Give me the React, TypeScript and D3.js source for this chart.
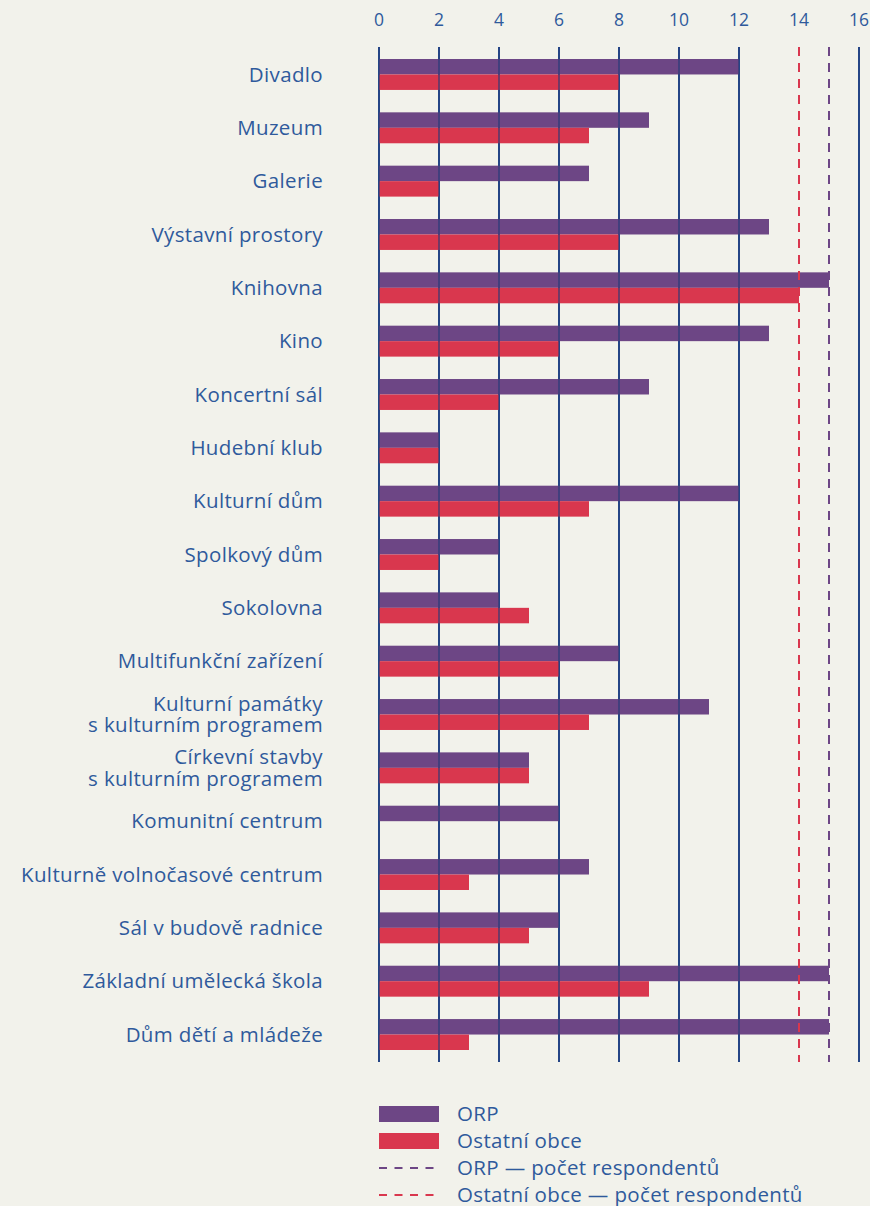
import React from "react";
import * as d3 from "d3";

const categories: string[][] = [
  ["Divadlo"],
  ["Muzeum"],
  ["Galerie"],
  ["Výstavní prostory"],
  ["Knihovna"],
  ["Kino"],
  ["Koncertní sál"],
  ["Hudební klub"],
  ["Kulturní dům"],
  ["Spolkový dům"],
  ["Sokolovna"],
  ["Multifunkční zařízení"],
  ["Kulturní památky", "s kulturním programem"],
  ["Církevní stavby", "s kulturním programem"],
  ["Komunitní centrum"],
  ["Kulturně volnočasové centrum"],
  ["Sál v budově radnice"],
  ["Základní umělecká škola"],
  ["Dům dětí a mládeže"],
];
const orp = [12, 9, 7, 13, 15, 13, 9, 2, 12, 4, 4, 8, 11, 5, 6, 7, 6, 15, 15];
const ostatni = [8, 7, 2, 8, 14, 6, 4, 2, 7, 2, 5, 6, 7, 5, 0, 3, 5, 9, 3];
const ticks = [0, 2, 4, 6, 8, 10, 12, 14, 16];
const orpRespondents = 15;
const ostatniRespondents = 14;
const legendItems = [
  { label: "ORP", kind: "bar", key: "orp" },
  { label: "Ostatní obce", kind: "bar", key: "ost" },
  { label: "ORP — počet respondentů", kind: "dash", key: "orp" },
  { label: "Ostatní obce — počet respondentů", kind: "dash", key: "ost" },
];

const W = 870;
const H = 1206;
const PURPLE = "#6d4685";
const RED = "#d9374e";
const BLUE = "#2d5396";
const TEXT = "#2f5a9c";
const BG = "#f2f2eb";
const FONT = "'Open Sans', sans-serif";

export default function App() {
  const x = d3.scaleLinear().domain([0, 16]).range([379, 859]);
  const idx = categories.map((_, i) => String(i));
  const y = d3.scaleBand().domain(idx).range([47.8, 1061.2]).paddingInner(0.42).paddingOuter(0.21);
  const sub = d3.scaleBand().domain(["orp", "ost"]).range([0, y.bandwidth()]);
  const gridTop = 47;
  const gridBottom = 1062;
  const color = (k: string) => (k === "orp" ? PURPLE : RED);
  const gridTicks = ticks.filter((t) => t !== ostatniRespondents);

  return (
    <div style={{ position: "absolute", left: 0, top: 0 }}>
      <svg width={W} height={H} style={{ display: "block", background: BG }}>
        <rect x={0} y={0} width={W} height={H} fill={BG} />
        {ticks.map((t) => (
          <text key={t} x={x(t)} y={26} textAnchor="middle" fontFamily={FONT} fontSize={17.5} fill={TEXT}>
            {t}
          </text>
        ))}
        {gridTicks.map((t) => (
          <line key={t} x1={x(t)} x2={x(t)} y1={gridTop} y2={gridBottom} stroke={BLUE} strokeWidth={2} />
        ))}
        {categories.map((lines, i) => {
          const y0 = y(String(i))!;
          const c = y0 + y.bandwidth() / 2;
          const lh = 21.5;
          return (
            <g key={i}>
              <rect x={x(0)} y={y0 + sub("orp")!} width={x(orp[i]) - x(0)} height={sub.bandwidth()} fill={PURPLE} />
              <rect x={x(0)} y={y0 + sub("ost")!} width={x(ostatni[i]) - x(0)} height={sub.bandwidth()} fill={RED} />
              {lines.map((ln, j) => (
                <text
                  key={j}
                  x={323}
                  y={c + (j - (lines.length - 1) / 2) * lh}
                  dy="0.35em"
                  textAnchor="end"
                  fontFamily={FONT}
                  fontSize={20.5}
                  letterSpacing={0.35}
                  fill={TEXT}
                >
                  {ln}
                </text>
              ))}
            </g>
          );
        })}
        {gridTicks.map((t) => (
          <line key={"o" + t} x1={x(t)} x2={x(t)} y1={gridTop} y2={gridBottom} stroke={"#1f3a78"} strokeWidth={2} opacity={0.55} />
        ))}
        <line x1={x(ostatniRespondents)} x2={x(ostatniRespondents)} y1={gridTop} y2={gridBottom} stroke={RED} strokeWidth={2} strokeDasharray="9 7" />
        <line x1={x(orpRespondents)} x2={x(orpRespondents)} y1={gridTop} y2={gridBottom} stroke={PURPLE} strokeWidth={2} strokeDasharray="9 7" />
        {legendItems.map((it, i) => {
          const cy = 1114 + i * 27;
          return (
            <g key={i}>
              {it.kind === "bar" ? (
                <rect x={379} y={cy - 8} width={60} height={16} fill={color(it.key)} />
              ) : (
                <line x1={379} x2={439} y1={cy} y2={cy} stroke={color(it.key)} strokeWidth={2} strokeDasharray="8 7.5" />
              )}
              <text x={457} y={cy} dy="0.35em" fontFamily={FONT} fontSize={20.5} letterSpacing={0.35} fill={TEXT}>
                {it.label}
              </text>
            </g>
          );
        })}
      </svg>
    </div>
  );
}
